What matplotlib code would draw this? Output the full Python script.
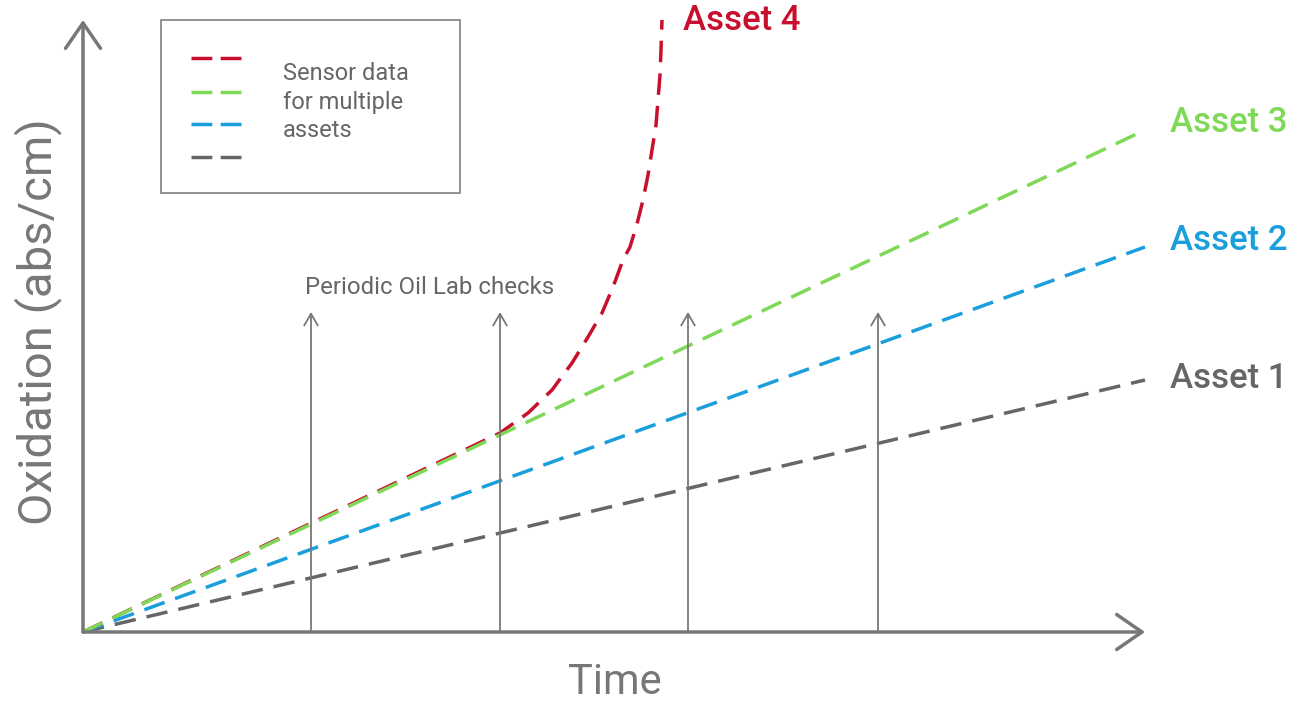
import matplotlib
matplotlib.use("Agg")
import matplotlib.pyplot as plt
import numpy as np

plt.rcParams['font.family'] = ['Roboto', 'DejaVu Sans']

# data (time units, oxidation units)
t_end = 1062
asset1_y = [0, 252]
asset2_y = [0, 385]
asset3_y = [0, 502]
asset4_x = [0, 417, 445, 469, 489, 505, 519, 530, 540, 547, 554, 560, 565, 569, 573, 575, 577, 578, 579]
asset4_y = [0, 199, 219, 242, 269, 295, 319, 345, 372, 385, 408, 432, 457, 482, 507, 532, 557, 582, 612]
check_times = [228, 417, 605, 795]
check_top = 320

red = '#c8102e'
green = '#7ed957'
blue = '#1a9fdc'
grey = '#666666'
axis_col = '#777777'

fig = plt.figure(figsize=(13.12, 7.01), dpi=100)
ax = fig.add_axes([0, 0, 1, 1])
ax.set_xlim(-83, 1312 - 83)
ax.set_ylim(632 - 701, 632)
ax.axis('off')

dash = (6.2, 3.2)
lw = 2.5
ax.plot([0, t_end], asset1_y, color=grey, lw=lw, dashes=dash)
ax.plot([0, t_end], asset2_y, color=blue, lw=lw, dashes=dash)
ax.plot(asset4_x, asset4_y, color=red, lw=lw, dashes=dash)
ax.plot([0, t_end], asset3_y, color=green, lw=lw, dashes=dash)

# axes arrows
ax.annotate('', xy=(0, 612), xytext=(0, 0),
            arrowprops=dict(arrowstyle='->, head_length=1.3, head_width=0.9',
                            color=axis_col, lw=2.5, shrinkA=0, shrinkB=0,
                            mutation_scale=14))
ax.annotate('', xy=(1062, 0), xytext=(0, 0),
            arrowprops=dict(arrowstyle='->, head_length=1.3, head_width=0.9',
                            color=axis_col, lw=2.5, shrinkA=0, shrinkB=0,
                            mutation_scale=14))

# periodic lab checks
for t in check_times:
    ax.annotate('', xy=(t, check_top), xytext=(t, 0),
                arrowprops=dict(arrowstyle='->, head_length=0.6, head_width=0.35',
                                color=axis_col, lw=1.3, shrinkA=0, shrinkB=0,
                                mutation_scale=14))
ax.text(222, 345, 'Periodic Oil Lab checks', fontsize=17.3, color=grey,
        ha='left', va='center')

# labels
ax.text(532, -51, 'Time', fontsize=30, color=axis_col, ha='center', va='center')
ax.text(-45, 310, 'Oxidation (abs/cm)', fontsize=34, color=axis_col,
        ha='center', va='center', rotation=90)

ax.text(1087, 510, 'Asset 3', fontsize=25, color=green, fontweight='medium', va='center')
ax.text(1087, 391, 'Asset 2', fontsize=25, color=blue, fontweight='medium', va='center')
ax.text(1087, 254, 'Asset 1', fontsize=25, color=grey, fontweight='medium', va='center')
ax.text(600, 612, 'Asset 4', fontsize=25, color=red, fontweight='medium', va='center')

# legend box
box = plt.Rectangle((78, 439), 299, 173, fill=False, edgecolor='#8a8a8a', lw=1.3)
ax.add_patch(box)
for yy, c in zip([574, 540, 508, 475], [red, green, blue, grey]):
    ax.plot([108, 160], [yy, yy], color=c, lw=lw, dashes=(6.0, 2.4))
ax.text(200, 530, 'Sensor data\nfor multiple\nassets', fontsize=17, color=grey,
        ha='left', va='center', linespacing=1.3)

fig.savefig('out.png', dpi=100)
